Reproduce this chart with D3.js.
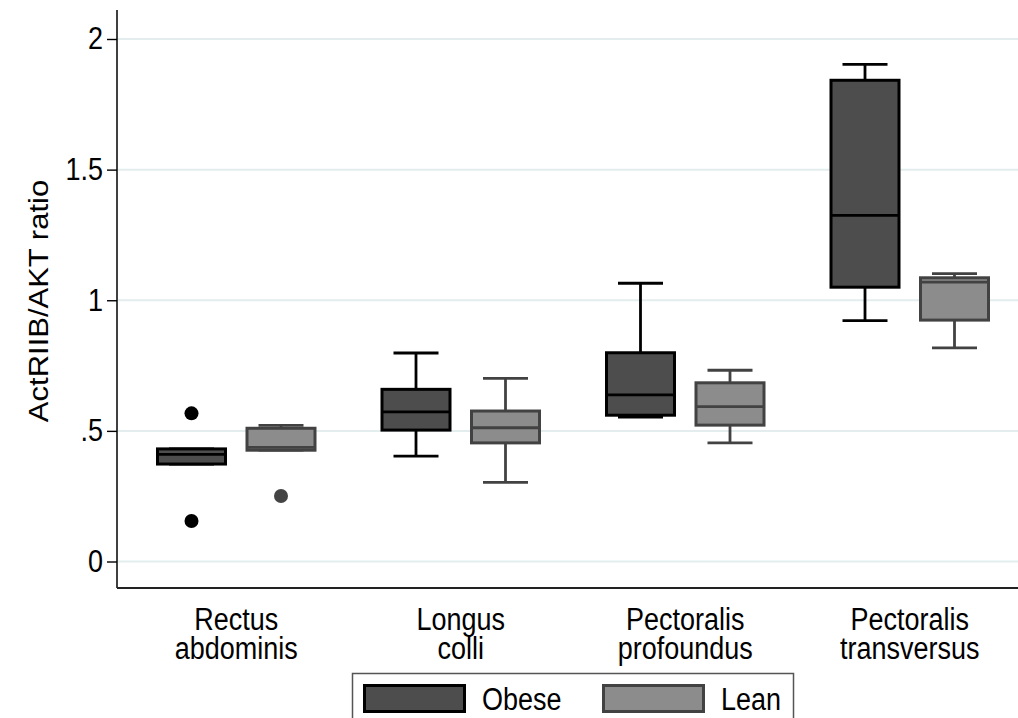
<!DOCTYPE html>
<html>
<head>
<meta charset="utf-8">
<script src="https://cdn.jsdelivr.net/npm/d3@7"></script>
<style>
  html, body { margin: 0; padding: 0; background: #fff; }
  svg { display: block; font-family: "Liberation Sans", Arial, Helvetica, sans-serif; }
</style>
</head>
<body>
<svg id="chart" width="1018" height="718"></svg>
<script>
// Muscle groups along the x axis (two-line labels)
const categories = ["Rectus abdominis", "Longus colli", "Pectoralis profoundus", "Pectoralis transversus"];
const categoryLines = [["Rectus", "abdominis"], ["Longus", "colli"], ["Pectoralis", "profoundus"], ["Pectoralis", "transversus"]];
const groups = ["Obese", "Lean"];

// Box summaries per muscle: lower whisker, Q1, median, Q3, upper whisker
const obeseLow    = [0.373, 0.403, 0.553, 0.922];
const obeseQ1     = [0.373, 0.503, 0.560, 1.050];
const obeseMedian = [0.410, 0.573, 0.638, 1.325];
const obeseQ3     = [0.431, 0.659, 0.799, 1.842];
const obeseHigh   = [0.431, 0.798, 1.065, 1.903];
const obeseOutliers = [[0.567, 0.155], [], [], []];

const leanLow    = [0.426, 0.303, 0.454, 0.818];
const leanQ1     = [0.426, 0.454, 0.522, 0.924];
const leanMedian = [0.437, 0.512, 0.593, 1.069];
const leanQ3     = [0.510, 0.576, 0.684, 1.086];
const leanHigh   = [0.521, 0.701, 0.732, 1.102];
const leanOutliers = [[0.251], [], [], []];

const yTicks = [0, 0.5, 1, 1.5, 2];
const yTickLabels = ["0", ".5", "1", "1.5", "2"];

const styles = {
  Obese: { fill: "#4d4d4d", stroke: "#000000" },
  Lean:  { fill: "#8c8c8c", stroke: "#424242" }
};
const SX = 0.87; // horizontal text compression

const svg = d3.select("#chart");
svg.append("rect").attr("width", 1018).attr("height", 718).attr("fill", "#fff");

const plotLeft = 117, plotRight = 1018, plotTop = 10, plotBottom = 588;

const y = d3.scaleLinear().domain([0, 2]).range([561.5, 39]);
const x0 = d3.scaleBand().domain(categories).range([124, 1022]).padding(0);
const x1 = d3.scalePoint().domain(groups).range([67.5, 157]);
const boxW = 68, capW = 45;

// gridlines
svg.append("g").selectAll("line").data(yTicks).join("line")
  .attr("x1", plotLeft + 1).attr("x2", plotRight)
  .attr("y1", d => y(d)).attr("y2", d => y(d))
  .attr("stroke", "#e4eded").attr("stroke-width", 2);

// y axis
const yAxis = d3.axisLeft(y).tickValues(yTicks)
  .tickFormat((d, i) => yTickLabels[i]).tickSize(10).tickPadding(6);
const gy = svg.append("g").attr("transform", `translate(${plotLeft},0)`).call(yAxis);
gy.select(".domain").remove();
gy.selectAll(".tick line").attr("stroke", "#000").attr("stroke-width", 1.4);
gy.selectAll(".tick text").attr("font-size", 31).attr("fill", "#000")
  .attr("font-family", "Liberation Sans, Arial, sans-serif")
  .attr("transform", `scale(${SX},1)`);
svg.append("line").attr("x1", plotLeft).attr("x2", plotLeft)
  .attr("y1", plotTop).attr("y2", plotBottom).attr("stroke", "#000").attr("stroke-width", 1.5);
svg.append("line").attr("x1", plotLeft).attr("x2", plotRight)
  .attr("y1", plotBottom).attr("y2", plotBottom).attr("stroke", "#222").attr("stroke-width", 2);

// y axis title
svg.append("text")
  .attr("transform", `translate(48,301) scale(${SX},1) rotate(-90)`)
  .attr("text-anchor", "middle").attr("font-size", 31).attr("fill", "#000")
  .text("ActRIIB/AKT ratio");

// x category labels
const xl = svg.append("g").selectAll("g").data(categories).join("g")
  .attr("transform", d => `translate(${x0(d) + x0.bandwidth() / 2},0)`);
xl.each(function (d, i) {
  const t = d3.select(this).append("text")
    .attr("text-anchor", "middle").attr("font-size", 31).attr("fill", "#000")
    .attr("transform", `scale(${SX},1)`);
  categoryLines[i].forEach((line, k) => {
    t.append("tspan").attr("x", 0).attr("y", 630 + k * 29.5).text(line);
  });
});

// assemble box records
const series = [
  { key: "Obese", lo: obeseLow, q1: obeseQ1, med: obeseMedian, q3: obeseQ3, hi: obeseHigh, out: obeseOutliers },
  { key: "Lean", lo: leanLow, q1: leanQ1, med: leanMedian, q3: leanQ3, hi: leanHigh, out: leanOutliers }
];
const boxes = [];
series.forEach(s => categories.forEach((c, i) => boxes.push({
  cat: c, key: s.key, lo: s.lo[i], q1: s.q1[i], med: s.med[i], q3: s.q3[i], hi: s.hi[i], out: s.out[i]
})));

const bx = d => x0(d.cat) + x1(d.key);

const bg = svg.append("g").selectAll("g").data(boxes).join("g");
// whiskers
bg.append("line").attr("x1", bx).attr("x2", bx)
  .attr("y1", d => y(d.q3)).attr("y2", d => y(d.hi))
  .attr("stroke", d => styles[d.key].stroke).attr("stroke-width", 2.8);
bg.append("line").attr("x1", bx).attr("x2", bx)
  .attr("y1", d => y(d.q1)).attr("y2", d => y(d.lo))
  .attr("stroke", d => styles[d.key].stroke).attr("stroke-width", 2.8);
bg.append("line").attr("x1", d => bx(d) - capW / 2).attr("x2", d => bx(d) + capW / 2)
  .attr("y1", d => y(d.hi)).attr("y2", d => y(d.hi))
  .attr("stroke", d => styles[d.key].stroke).attr("stroke-width", 2.8);
bg.append("line").attr("x1", d => bx(d) - capW / 2).attr("x2", d => bx(d) + capW / 2)
  .attr("y1", d => y(d.lo)).attr("y2", d => y(d.lo))
  .attr("stroke", d => styles[d.key].stroke).attr("stroke-width", 2.8);
// box
bg.append("rect")
  .attr("x", d => bx(d) - boxW / 2).attr("width", boxW)
  .attr("y", d => y(d.q3)).attr("height", d => y(d.q1) - y(d.q3))
  .attr("fill", d => styles[d.key].fill)
  .attr("stroke", d => styles[d.key].stroke).attr("stroke-width", 3);
// median
bg.append("line").attr("x1", d => bx(d) - boxW / 2).attr("x2", d => bx(d) + boxW / 2)
  .attr("y1", d => y(d.med)).attr("y2", d => y(d.med))
  .attr("stroke", d => styles[d.key].stroke).attr("stroke-width", 2.8);
// outliers
bg.selectAll("circle").data(d => d.out.map(v => ({ v, d }))).join("circle")
  .attr("cx", o => bx(o.d)).attr("cy", o => y(o.v)).attr("r", 7)
  .attr("fill", o => o.d.key === "Obese" ? "#000" : "#444");

// legend
const lg = svg.append("g");
lg.append("rect").attr("x", 352.5).attr("y", 673.5).attr("width", 441).attr("height", 60)
  .attr("fill", "#fff").attr("stroke", "#555").attr("stroke-width", 1.5);
const legendX = [363, 602];
groups.forEach((g, i) => {
  lg.append("rect").attr("x", legendX[i] + 1.5).attr("y", 685.5).attr("width", 100).attr("height", 26)
    .attr("fill", styles[g].fill).attr("stroke", styles[g].stroke).attr("stroke-width", 3);
  lg.append("text").attr("transform", `translate(${legendX[i] + 119},710) scale(${SX},1)`)
    .attr("font-size", 31).attr("fill", "#000").text(g);
});
</script>
</body>
</html>
